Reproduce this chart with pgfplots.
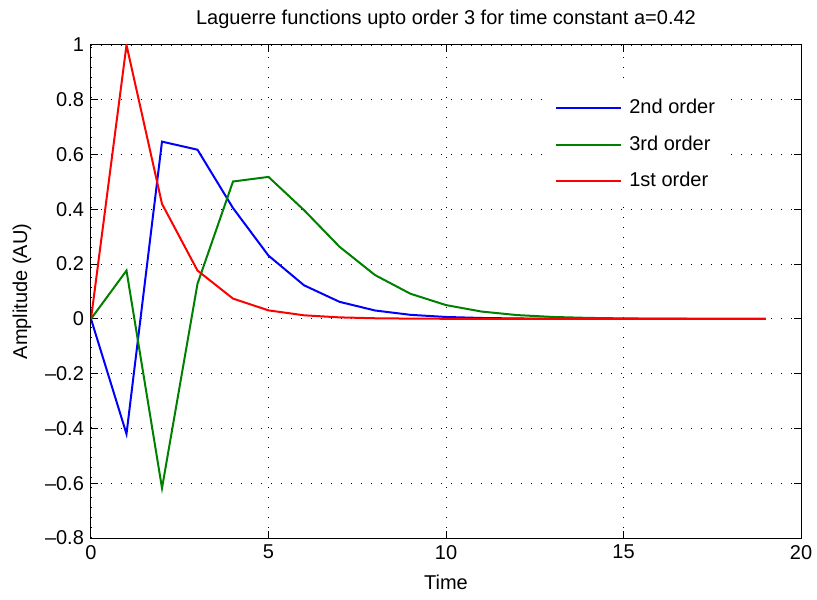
\documentclass[border=0pt]{standalone}
\usepackage{fontspec}
\setmainfont{Liberation Sans}
\usepackage{pgfplots}
\pgfplotsset{compat=1.18}
\definecolor{mgreen}{rgb}{0,0.5,0}

\begin{document}
\fontsize{10}{12}\selectfont
\begin{tikzpicture}
\useasboundingbox (-45.5pt,-30.5pt) rectangle (363pt,269pt);
\begin{axis}[
  scale only axis, width=355pt, height=246.5pt,
  xmin=0, xmax=20, ymin=-0.8, ymax=1,
  xtick={0,5,10,15,20},
  ytick={-0.8,-0.6,-0.4,-0.2,0,0.2,0.4,0.6,0.8,1},
  yticklabels={\textendash0.8,\textendash0.6,\textendash0.4,\textendash0.2,0,0.2,0.4,0.6,0.8,1},
  /pgf/number format/assume math mode=true,
  tick label style={font=\fontsize{10}{12}\selectfont},
  tick align=inside, tick pos=both,
  major tick length=3.5pt,
  tick style={black, line width=0.5pt},
  axis line style={black, line width=0.5pt},
  grid=major,
  grid style={black, line width=0.45pt, dash pattern=on 0.5pt off 4.5pt},
  no markers,
  title={Laguerre functions upto order 3 for time constant a=0.42},
  title style={at={(axis description cs:0.5,1.028)}, anchor=center, font=\fontsize{10}{12}\selectfont},
  xlabel={Time},
  xlabel style={at={(axis description cs:0.5,-0.089)}, anchor=center, font=\fontsize{10}{12}\selectfont},
  ylabel={Amplitude (AU)},
  ylabel style={at={(axis description cs:-0.0972,0.5)}, anchor=center, font=\fontsize{10}{12}\selectfont},
  legend style={at={(axis description cs:0.645,0.915)}, anchor=north west, draw=none, fill=white,
    font=\fontsize{10}{12}\selectfont, row sep=5.5pt, inner xsep=3pt, inner ysep=4pt},
  legend cell align=left,
  legend image code/.code={\draw[#1] (0pt,0pt) -- (32.5pt,0pt); \path (34pt,0pt);},
]
\addplot[blue, line width=1pt] coordinates {
(0,0) (1,-0.42) (2,0.6472) (3,0.6177) (4,0.4047) (5,0.2310) (6,0.1227) (7,0.0623)
(8,0.0307) (9,0.0148) (10,0.0070) (11,0.0033) (12,0.0016) (13,0.0007) (14,0.0003)
(15,0.0001) (16,0) (17,0) (18,0) (19,0)};
\addlegendentry{2nd order}
\addplot[mgreen, line width=1pt] coordinates {
(0,0) (1,0.1764) (2,-0.6177) (3,0.1283) (4,0.5016) (5,0.5184) (6,0.3972) (7,0.2634)
(8,0.1600) (9,0.0917) (10,0.0504) (11,0.0268) (12,0.0139) (13,0.0071) (14,0.0036)
(15,0.0018) (16,0.0009) (17,0.0004) (18,0.0002) (19,0.0001)};
\addlegendentry{3rd order}
\addplot[red, line width=1pt] coordinates {
(0,0) (1,1) (2,0.42) (3,0.1764) (4,0.0741) (5,0.0311) (6,0.0131) (7,0.0055)
(8,0.0023) (9,0.0010) (10,0.0004) (11,0.0002) (12,0.0001) (13,0) (14,0)
(15,0) (16,0) (17,0) (18,0) (19,0)};
\addlegendentry{1st order}
\end{axis}
\end{tikzpicture}
\end{document}
